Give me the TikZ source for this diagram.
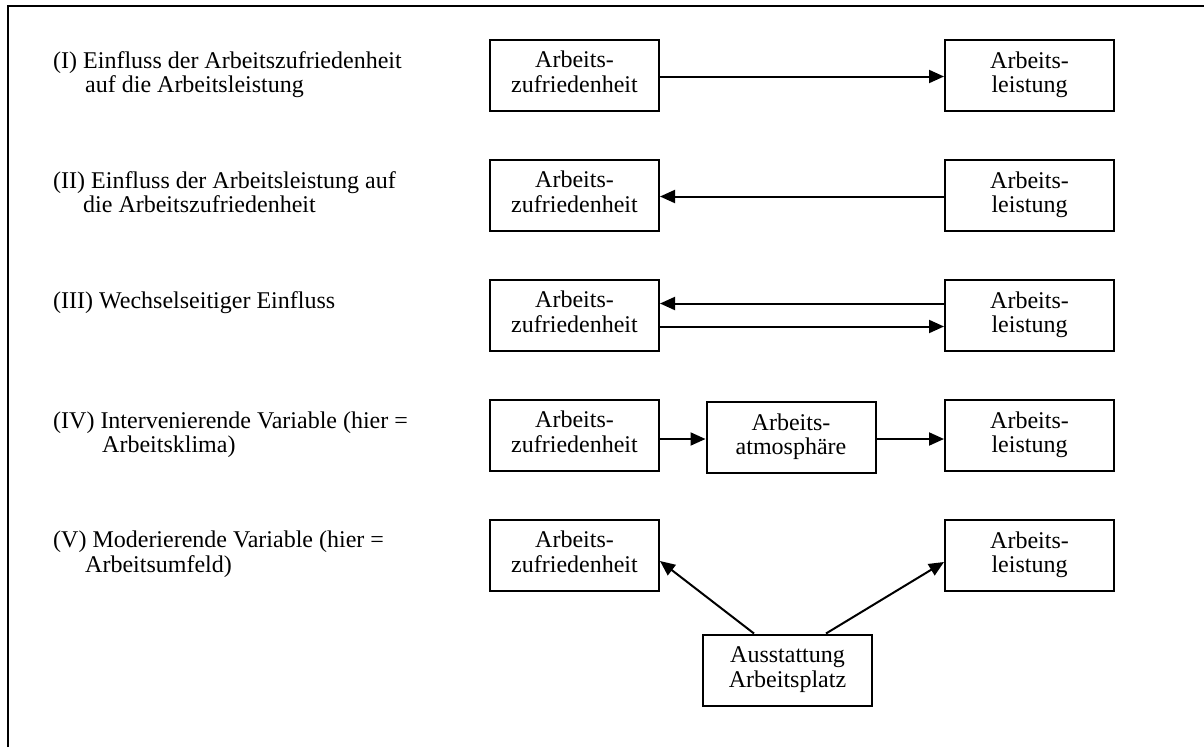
\documentclass[tikz,border=0pt]{standalone}
\usepackage{fontspec}
\setmainfont{Liberation Serif}
\usetikzlibrary{arrows.meta}
\newcommand\bstrut{\rule[-7pt]{0pt}{23.5pt}}
\begin{document}
\begin{tikzpicture}[x=1pt,y=-1pt,
  box/.style={draw, line width=2pt, minimum width=169pt, minimum height=71pt, inner sep=0pt, align=center, font=\fontsize{24pt}{23.5pt}\selectfont},
  lab/.style={anchor=west, align=left, inner sep=0pt, font=\fontsize{24pt}{23.5pt}\selectfont},
  arr/.style={line width=2pt, -{Triangle[length=15pt,width=13pt]}},
  frame/.style={line width=2pt}
]
\useasboundingbox (0,0) rectangle (1204,747);
\draw[frame] (8,747) -- (8,6) -- (1204,6);

% labels
\node[lab] (t1) at (53,75.5) {\bstrut(I) Einfluss der Arbeitszufriedenheit\\\hspace*{32pt}auf die Arbeitsleistung\bstrut};
\node[lab] (t2) at (53,195.5) {\bstrut(II) Einfluss der Arbeitsleistung auf\\\hspace*{30pt}die Arbeitszufriedenheit\bstrut};
\node[lab, anchor=base west] (t3) at (53,308.5) {(III) Wechselseitiger Einfluss};
\node[lab] (t4) at (53,435.5) {\bstrut(IV) Intervenierende Variable (hier =\\\hspace*{49pt}Arbeitsklima)\bstrut};
\node[lab] (t5) at (53,555.5) {\bstrut(V) Moderierende Variable (hier =\\\hspace*{32pt}Arbeitsumfeld)\bstrut};

% row I
\node[box] (l1) at (574.5,75.5) {\bstrut Arbeits-\\zufriedenheit\bstrut};
\node[box] (r1) at (1029.5,75.5) {\bstrut Arbeits-\\leistung\bstrut};
% row II
\node[box] (l2) at (574.5,195.5) {\bstrut Arbeits-\\zufriedenheit\bstrut};
\node[box] (r2) at (1029.5,195.5) {\bstrut Arbeits-\\leistung\bstrut};
% row III
\node[box] (l3) at (574.5,315.5) {\bstrut Arbeits-\\zufriedenheit\bstrut};
\node[box] (r3) at (1029.5,315.5) {\bstrut Arbeits-\\leistung\bstrut};
% row IV
\node[box] (l4) at (574.5,435.5) {\bstrut Arbeits-\\zufriedenheit\bstrut};
\node[box] (m4) at (791,437.5) {\bstrut Arbeits-\\atmosphäre\bstrut};
\node[box] (r4) at (1029.5,435.5) {\bstrut Arbeits-\\leistung\bstrut};
% row V
\node[box] (l5) at (574.5,555.5) {\bstrut Arbeits-\\zufriedenheit\bstrut};
\node[box] (r5) at (1029.5,555.5) {\bstrut Arbeits-\\leistung\bstrut};
\node[box] (b5) at (787.5,670) {\bstrut Ausstattung\\Arbeitsplatz\bstrut};

% arrows
\draw[arr] ([yshift=-1pt]l1.east) -- ([yshift=-1pt]r1.west);
\draw[arr] ([yshift=-1pt]r2.west) -- ([yshift=-1pt]l2.east);
\draw[arr] ([yshift=12pt]r3.west) -- ([yshift=12pt]l3.east);
\draw[arr] ([yshift=-11pt]l3.east) -- ([yshift=-11pt]r3.west);
\draw[arr] ([yshift=-3.5pt]l4.east) -- ([yshift=-1.5pt]m4.west);
\draw[arr] ([yshift=-1.5pt]m4.east) -- ([yshift=-3.5pt]r4.west);
\draw[arr] ([xshift=-33.5pt]b5.north) -- ([yshift=-5.5pt]l5.east);
\draw[arr] ([xshift=38.5pt]b5.north) -- ([yshift=-6.5pt]r5.west);
\end{tikzpicture}
\end{document}
